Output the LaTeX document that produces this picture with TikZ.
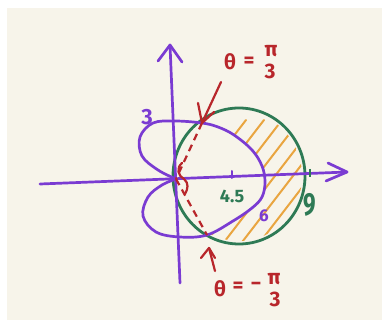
\documentclass[tikz,border=0pt]{standalone}
\usepackage{fontspec}
\setmainfont{Fira Sans}
\definecolor{cream}{HTML}{F7F4EA}
\definecolor{purp}{HTML}{7A3BD2}
\definecolor{grn}{HTML}{2E7A55}
\definecolor{rd}{HTML}{B8262B}
\definecolor{org}{HTML}{E9A540}
\tikzset{
  pline/.style={draw=purp,line width=2.7pt,line cap=round,line join=round},
  gline/.style={draw=grn,line width=2.8pt},
  rline/.style={draw=rd,line width=2.2pt,line cap=round,line join=round},
  hatchline/.style={draw=org,line width=2pt,line cap=round},
  lbl/.style={inner sep=0pt,outer sep=0pt,font=\bfseries},
  rlbl/.style={lbl,text=rd,font=\bfseries\fontsize{21}{24}\selectfont}
}
\begin{document}
\begin{tikzpicture}[x=1pt,y=-1pt]
\useasboundingbox (0,0) rectangle (382,320);
\fill[white] (0,0) rectangle (382,320);
\fill[cream] (7,8) rectangle (382,320);
% hatching inside the circle
\begin{scope}
  \clip (239,176) ellipse [x radius=63, y radius=65];
  \foreach \k in {0,...,10} {
    \draw[hatchline] ({146+18*\k},250) -- ({146+18*\k+100},{250-130});
  }
\end{scope}
% cover inside of cardioid
\fill[cream] plot[smooth,tension=0.6] coordinates {(176,179) (158,170) (142,156) (140,137) (153,123) (175,121) (202,123) (218,127) (234,135) (252,150) (262,166) (265,182) (262,197) (252,208) (233,221) (207,235) (180,237) (156,232) (143,216) (148,197) (162,185) (176,179)};
% circle
\draw[gline] (239,176) ellipse [x radius=66, y radius=68];
% axes
\coordinate (xl) at (40,184);
\coordinate (xr) at (347,172);
\coordinate (yb) at (180,283);
\coordinate (yt) at (170,45);
\draw[pline] (xl) -- (xr);
\draw[pline] (328,163) -- (xr) -- (326,181);
\draw[pline] (yb) -- (yt);
\draw[pline] (158,61) -- (yt) -- (182,62);
% cardioid
\draw[pline] plot[smooth,tension=0.6] coordinates {(176,179) (158,170) (142,156) (140,137) (153,123) (175,121) (202,123) (218,127) (234,135) (252,150) (262,166) (265,182) (262,197) (252,208) (233,221) (207,235) (180,237) (156,232) (143,216) (148,197) (162,185) (176,179)};
% ticks
\draw[pline,line width=2pt] (232,171) -- (232,178);
\draw[draw=grn,line width=2pt] (310,169) -- (310,177);
% intersections and dashed rays
\coordinate (O) at (176,179);
\coordinate (P) at (202,123);
\coordinate (Q) at (207,235);
\draw[rline,dash pattern=on 7pt off 5pt,line cap=butt] (P) -- (O);
\draw[rline,dash pattern=on 7pt off 5pt,line cap=butt] (O) -- (Q);
\draw[rline] (182,163) .. controls (176,168) and (178,176) .. (184,179) .. controls (189,183) and (188,189) .. (185,194);
% labels theta = pi/3
\node[rlbl] (tp1) at (230,62) {θ};
\node[rlbl] (tp2) at (249,62) {=};
\node[rlbl] (tp3) at (271,51) {π};
\node[rlbl] (tp4) at (270,71) {3};
% labels theta = -pi/3
\node[rlbl] (tm1) at (220,289) {θ};
\node[rlbl] (tm2) at (238,287) {=};
\node[rlbl] (tm3) at (256,286) {−};
\node[rlbl] (tm4) at (274,279) {π};
\node[rlbl] (tm5) at (275,299) {3};
% arrows
\coordinate (a1) at (221,82);
\coordinate (a2) at (215,271);
\coordinate (a2e) at (209,248);
\draw[rline] (a1) -- (P);
\draw[rline] (198,103) -- (P) -- (214,112);
\draw[rline] (a2) -- (a2e);
\draw[rline] (201,258) -- (a2e) -- (215,258);
\node[lbl,text=purp,font=\bfseries\fontsize{22}{24}\selectfont] (l3) at (147,117) {3};
\node[lbl,text=purp,font=\bfseries\fontsize{17}{20}\selectfont] (l6) at (264,216) {6};
\node[lbl,text=grn,font=\bfseries\fontsize{18}{20}\selectfont] (l45) at (232,196) {4.5};
\node[lbl,text=grn,font=\bfseries\fontsize{32}{34}\selectfont] (l9) at (310,205) {\scalebox{0.7}[1]{9}};
\end{tikzpicture}
\end{document}
